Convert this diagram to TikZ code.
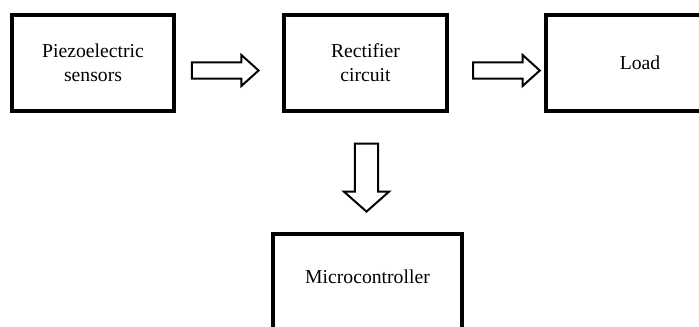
\documentclass[tikz,border=0pt]{standalone}
\usepackage{fontspec}
\setmainfont{Liberation Serif}
\usetikzlibrary{shapes.arrows}

\begin{document}
\begin{tikzpicture}[
	x=0.03cm, y=-0.03cm,
	block/.style={ draw, line width=3.4pt, minimum width=138.3pt, minimum height=81.9pt, align=center, font=\fontsize{16.8}{20.5}\selectfont },
	blockw/.style={ block, minimum width=160.5pt },
	hollow/.style={ single arrow, draw, line width=1.7pt, inner sep=0pt, inner ysep=6pt, single arrow head extend=6.4pt, single arrow tip angle=84, minimum height=57pt },
	hollowd/.style={ single arrow, draw, line width=1.7pt, inner sep=0pt, inner ysep=9pt, single arrow head extend=9.4pt, single arrow tip angle=97, minimum height=58pt, rotate=-90 }
]

\useasboundingbox (0,0) rectangle (699,326);
\clip (0,0) rectangle (699,326);

\node at (93,63) (sensor) [block] {Piezoelectric\\ sensors};
\node at (365.5,63) (rectifier) [block] {Rectifier\\ circuit};
\node at (640,63) (load) [blockw] {Load};
\node at (367.5,282) (micro) [blockw, text depth=9pt] {Microcontroller};

\path (sensor.east) -- node[pos=0.42, hollow, yshift=-6.4pt] (a1) {} (rectifier.west);
\path (rectifier.east) -- node[pos=0.56, hollow, yshift=-6.4pt] (a2) {} (load.west);
\path (rectifier.south) -- node[pos=0.5, hollowd] (a3) {} (micro.north);

\end{tikzpicture}
\end{document}
